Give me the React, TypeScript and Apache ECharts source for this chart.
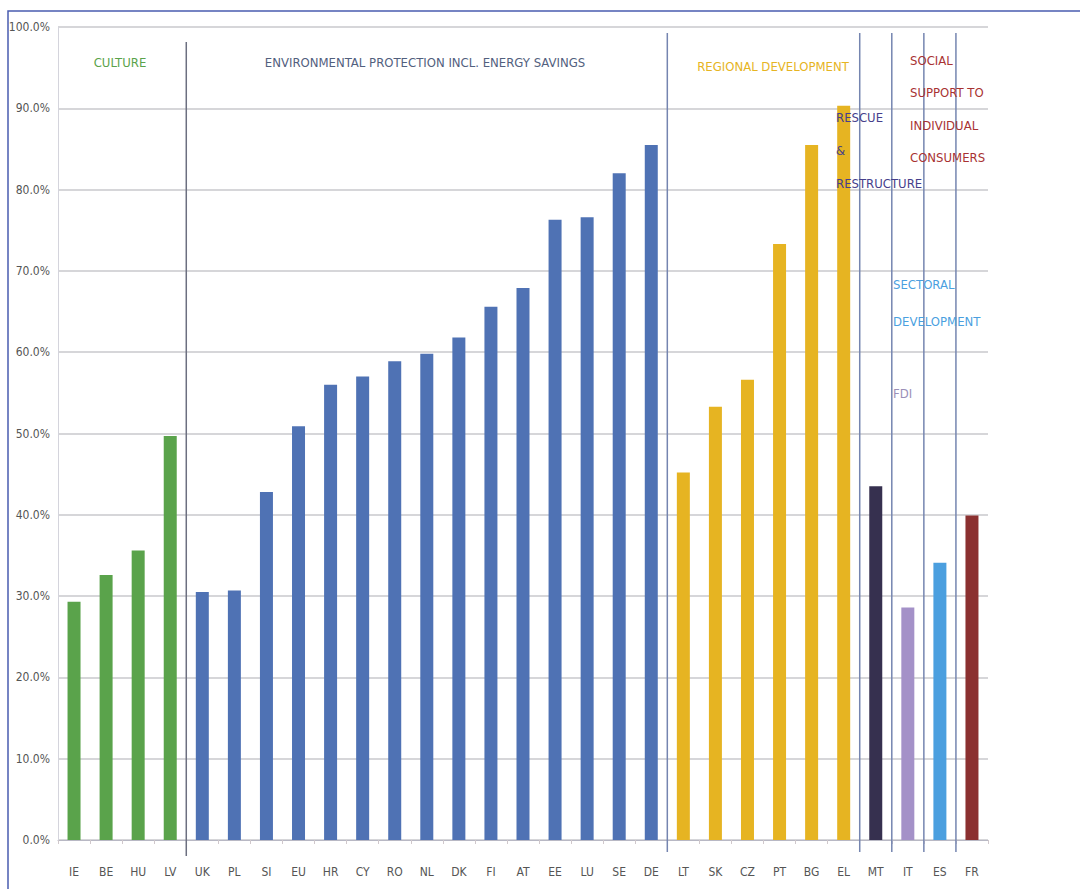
import React, { useEffect, useRef } from "react";
import * as echarts from "echarts";

const categories = ["IE","BE","HU","LV","UK","PL","SI","EU","HR","CY","RO","NL","DK","FI","AT","EE","LU","SE","DE","LT","SK","CZ","PT","BG","EL","MT","IT","ES","FR"];
const values = [29.3,32.6,35.6,49.7,30.5,30.7,42.8,50.9,56.0,57.0,58.9,59.8,61.8,65.6,67.9,76.3,76.6,82.0,85.5,45.2,53.3,56.6,73.3,85.5,90.3,43.5,28.6,34.1,39.9];
const groupOf = ["CUL","CUL","CUL","CUL","ENV","ENV","ENV","ENV","ENV","ENV","ENV","ENV","ENV","ENV","ENV","ENV","ENV","ENV","ENV","REG","REG","REG","REG","REG","REG","RES","FDI","SEC","SOC"];
const yTicks = [0,10,20,30,40,50,60,70,80,90,100];

const groupColors: Record<string, string> = {
  CUL: "#5aa34b",
  ENV: "#4f72b4",
  REG: "#e6b422",
  RES: "#36304f",
  FDI: "#a491c8",
  SEC: "#4b9fdf",
  SOC: "#8b3030",
};

const FONT = "'Liberation Sans Narrow', 'DejaVu Sans Condensed', 'Open Sans', sans-serif";

export default function App() {
  const ref = useRef<HTMLDivElement>(null);
  useEffect(() => {
    if (!ref.current) return;
    const chart = echarts.init(ref.current, null, { renderer: "svg" });
    chart.setOption({
      animation: false,
      backgroundColor: "#ffffff",
      grid: { left: 58, right: 92, top: 27, bottom: 49, containLabel: false },
      xAxis: {
        type: "category",
        data: categories,
        axisLine: { lineStyle: { color: "#b8b8c4", width: 1 } },
        axisTick: { show: true, length: 4, lineStyle: { color: "#d0c8cc" } },
        axisLabel: { color: "#555555", fontSize: 12, fontFamily: FONT, margin: 26 },
        splitLine: { show: false },
      },
      yAxis: {
        type: "value",
        min: yTicks[0],
        max: yTicks[yTicks.length - 1],
        interval: 10,
        axisLine: { show: true, lineStyle: { color: "#d4d4dc", width: 1 } },
        axisTick: { show: false },
        axisLabel: {
          color: "#555555",
          fontSize: 12,
          fontFamily: FONT,
          margin: 8,
          formatter: (v: number) => v.toFixed(1) + "%",
        },
        splitLine: { lineStyle: { color: "#c8c8cc", width: 1.5 } },
      },
      series: [
        {
          type: "bar",
          barWidth: 13,
          data: values.map((v, i) => ({
            value: v,
            itemStyle: { color: groupColors[groupOf[i]] },
          })),
        },
      ],
    });

    const px = (i: number) => chart.convertToPixel({ xAxisIndex: 0 }, categories[i]) as number;
    const boundaries: number[] = [];
    for (let i = 1; i < categories.length; i++) {
      if (groupOf[i] !== groupOf[i - 1]) boundaries.push((px(i) + px(i - 1)) / 2);
    }
    const sepLines = boundaries.map((x, k) => ({
      type: "line",
      shape: { x1: x, y1: k === 0 ? 42 : 33, x2: x, y2: k === 0 ? 856 : 852 },
      style: { stroke: k === 0 ? "#6c6f80" : "#7585b0", lineWidth: 1.5 },
      z: 10,
    }));

    const txt = (x: number, y: number, text: string, color: string, align = "left", lh = 33) => ({
      type: "text",
      x,
      y,
      z: 20,
      style: {
        text,
        fill: color,
        font: `13px ${FONT}`,
        textAlign: align,
        textVerticalAlign: "middle",
        lineHeight: lh,
      },
    });

    chart.setOption({
      graphic: [
        {
          type: "rect",
          shape: { x: 8, y: 11, width: 1100, height: 900 },
          style: { fill: "none", stroke: "#4a5cb0", lineWidth: 1.5 },
          z: 30,
        },
        ...sepLines,
        txt(120, 62, "CULTURE", "#5aa34b", "center"),
        txt(425, 62, "ENVIRONMENTAL PROTECTION INCL. ENERGY SAVINGS", "#52607e", "center"),
        txt(773, 66, "REGIONAL DEVELOPMENT", "#e6b422", "center"),
        { ...txt(836, 117, "RESCUE\n&\nRESTRUCTURE", "#463f8c", "left", 33), style: { ...txt(0, 0, "", "").style, text: "RESCUE\n&\nRESTRUCTURE", fill: "#463f8c", textAlign: "left", textVerticalAlign: "top", lineHeight: 33 }, y: 101 },
        { ...txt(910, 60, "", ""), style: { ...txt(0, 0, "", "").style, text: "SOCIAL\nSUPPORT TO\nINDIVIDUAL\nCONSUMERS", fill: "#a83232", textAlign: "left", textVerticalAlign: "top", lineHeight: 32.5 }, y: 44 },
        { ...txt(893, 283, "", ""), style: { ...txt(0, 0, "", "").style, text: "SECTORAL\nDEVELOPMENT", fill: "#4b9fdf", textAlign: "left", textVerticalAlign: "top", lineHeight: 37 }, y: 266 },
        txt(893, 393, "FDI", "#9a8fb8", "left"),
      ],
    });

    return () => chart.dispose();
  }, []);
  return (
    <div
      ref={ref}
      style={{ position: "fixed", left: 0, top: 0, width: 1080, height: 889, background: "#fff" }}
    />
  );
}
